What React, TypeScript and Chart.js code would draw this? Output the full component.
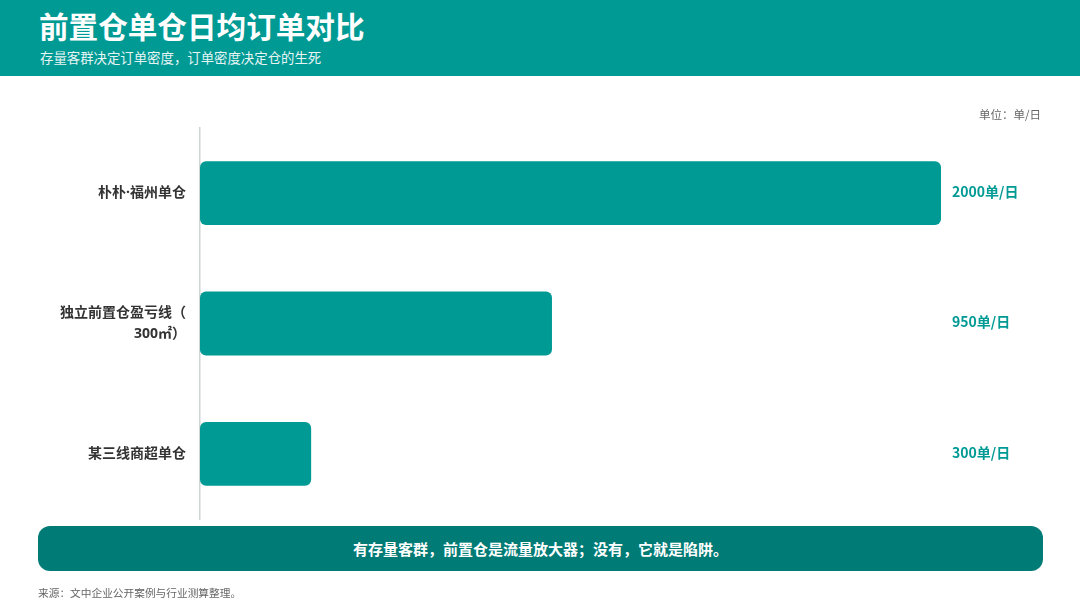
import React, { useEffect, useRef } from 'react';
import { Chart, registerables } from 'chart.js';

Chart.register(...registerables);

const categories: (string | string[])[] = ['朴朴·福州单仓', ['独立前置仓盈亏线（', '300㎡）'], '某三线商超单仓'];
const dailyOrders = [2000, 950, 300];
const valueLabels = ['2000单/日', '950单/日', '300单/日'];

const TEAL = '#009A95';
const FONT = '"Noto Sans CJK SC", "Noto Sans", sans-serif';
const LABEL_FONT = '"Noto Sans", "Noto Sans CJK SC", sans-serif';

const valueLabelPlugin = {
    id: 'valueLabels',
    afterDatasetsDraw(chart: any) {
        const { ctx, chartArea } = chart;
        const meta = chart.getDatasetMeta(0);
        ctx.save();
        ctx.font = `bold 14px ${FONT}`;
        ctx.fillStyle = TEAL;
        ctx.textAlign = 'left';
        ctx.textBaseline = 'middle';
        meta.data.forEach((bar: any, i: number) => {
            ctx.fillText(valueLabels[i], chartArea.right + 11, bar.y - 1.5);
        });
        ctx.restore();
    }
};

export default function App() {
    const chartRef = useRef<HTMLCanvasElement>(null);
    const chartInstance = useRef<Chart | null>(null);

    useEffect(() => {
        if (!chartRef.current) return;
        if (chartInstance.current) chartInstance.current.destroy();

        chartInstance.current = new Chart(chartRef.current, {
            type: 'bar',
            data: {
                labels: categories,
                datasets: [{
                    data: dailyOrders,
                    backgroundColor: TEAL,
                    borderRadius: 6,
                    borderSkipped: false,
                    barPercentage: 0.49,
                    categoryPercentage: 1
                }]
            },
            options: {
                indexAxis: 'y',
                responsive: false,
                animation: false,
                layout: { padding: { top: 128, bottom: 89, left: 10, right: 139 } },
                plugins: {
                    legend: { display: false },
                    tooltip: { enabled: false }
                },
                scales: {
                    x: { display: false, min: 0, max: 2000 },
                    y: {
                        afterFit: (scale: any) => { scale.width = 190; },
                        grid: { display: false, drawTicks: false },
                        border: { display: true, color: '#cfd4d4', width: 1.5 },
                        ticks: {
                            padding: 14,
                            color: '#333333',
                            font: { family: LABEL_FONT, size: 14, weight: 'bold', lineHeight: 1.45 }
                        }
                    }
                }
            } as any,
            plugins: [valueLabelPlugin]
        });

        return () => {
            if (chartInstance.current) chartInstance.current.destroy();
        };
    }, []);

    return (
        <div style={{ position: 'absolute', left: 0, top: 0, width: 1080, height: 608, background: '#ffffff', fontFamily: FONT, overflow: 'hidden' }}>
            <div style={{ position: 'absolute', left: 0, top: 0, width: 1080, height: 76, background: TEAL }}>
                <div style={{ position: 'absolute', left: 39, top: 5, color: '#ffffff', fontSize: 29.6, fontWeight: 'bold', lineHeight: '42px' }}>
                    前置仓单仓日均订单对比
                </div>
                <div style={{ position: 'absolute', left: 40, top: 48, color: '#e6f5f4', fontSize: 13.4, lineHeight: '18px' }}>
                    存量客群决定订单密度，订单密度决定仓的生死
                </div>
            </div>
            <canvas ref={chartRef} width={1080} height={608} style={{ position: 'absolute', left: 0, top: 0 }}></canvas>
            <div style={{ position: 'absolute', right: 39, top: 106, color: '#666666', fontSize: 11.5, lineHeight: '16px' }}>
                单位：单/日
            </div>
            <div style={{ position: 'absolute', left: 38, top: 526, width: 1005, height: 45, borderRadius: 12, background: '#007B75', color: '#ffffff', fontSize: 15, fontWeight: 'bold', display: 'flex', alignItems: 'center', justifyContent: 'center' }}>
                有存量客群，前置仓是流量放大器；没有，它就是陷阱。
            </div>
            <div style={{ position: 'absolute', left: 38, top: 585, color: '#666666', fontSize: 10.7, lineHeight: '16px' }}>
                来源：文中企业公开案例与行业测算整理。
            </div>
        </div>
    );
}
